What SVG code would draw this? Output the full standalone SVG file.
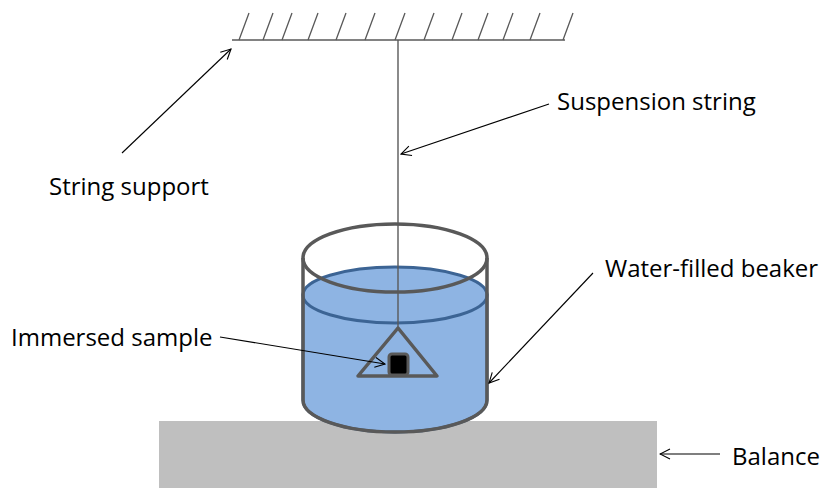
<svg xmlns="http://www.w3.org/2000/svg" width="822" height="488" viewBox="0 0 822 488">
  <style>
    .label { font-family: "Open Sans", "Liberation Sans", sans-serif; font-size: 24px; fill: #000; }
    .hatch { stroke: #595959; stroke-width: 1.3; fill: none; }
    .gray { stroke: #595959; fill: none; }
    .pointer { stroke: #000; stroke-width: 1.1; fill: none; marker-end: url(#open-arrow); }
  </style>
  <defs>
    <marker id="open-arrow" viewBox="0 0 12 12" refX="11" refY="6" markerWidth="12" markerHeight="12" markerUnits="userSpaceOnUse" orient="auto">
      <path d="M1,1 L11,6 L1,11" fill="none" stroke="#000" stroke-width="1.1"/>
    </marker>
  </defs>

  <!-- ceiling support with hatching -->
  <g id="support">
    <line class="hatch" x1="232" y1="40" x2="565" y2="40"/>
    <path class="hatch" d="M239,40 L249,13 M263,40 L273,13 M282,40 L292,13 M308,40 L318,13 M336,40 L346,13 M365,40 L375,13 M395,40 L405,13 M424,40 L434,13 M452,40 L462,13 M478,40 L488,13 M503,40 L513,13 M530,40 L540,13 M563,40 L573,13"/>
  </g>

  <!-- balance platform -->
  <g id="balance">
    <rect x="159" y="421" width="498" height="67" fill="#BFBFBF"/>
  </g>

  <!-- water inside the beaker -->
  <g id="water">
    <path d="M303,295 L303,400 A92,32 0 0 0 487,400 L487,295 Z" fill="#8EB4E3" stroke="#3C6494" stroke-width="3"/>
    <ellipse cx="395" cy="295" rx="92" ry="28" fill="#8EB4E3" stroke="#3C6494" stroke-width="3"/>
  </g>

  <!-- beaker outline -->
  <g id="beaker">
    <ellipse class="gray" cx="395" cy="258" rx="92" ry="34" stroke-width="3.5"/>
    <path class="gray" d="M303,258 L303,400 A92,32 0 0 0 487,400 L487,258" stroke-width="3.5"/>
  </g>

  <!-- suspension string -->
  <g id="string">
    <line x1="398" y1="40" x2="398" y2="328" stroke="#595959" stroke-width="1.4"/>
  </g>

  <!-- sample holder and sample -->
  <g id="sample">
    <path class="gray" d="M398,328 L437,376 L358,376 Z" stroke-width="3.5" stroke-linejoin="round"/>
    <rect x="389" y="354" width="19" height="21" rx="3" fill="#000" stroke="#595959" stroke-width="3"/>
  </g>

  <!-- labels -->
  <g id="labels">
    <text class="label" x="557" y="110">Suspension string</text>
    <text class="label" x="49" y="195">String support</text>
    <text class="label" x="605" y="277">Water-filled beaker</text>
    <text class="label" x="11" y="346">Immersed sample</text>
    <text class="label" x="732" y="465">Balance</text>
  </g>

  <!-- pointer connectors -->
  <g id="connectors">
    <line class="pointer" x1="122" y1="153" x2="231" y2="49"/>
    <line class="pointer" x1="549" y1="104" x2="401" y2="154"/>
    <line class="pointer" x1="593" y1="273" x2="489" y2="383"/>
    <line class="pointer" x1="220" y1="337" x2="385" y2="364"/>
    <line class="pointer" x1="720" y1="454" x2="660" y2="454"/>
  </g>
</svg>
